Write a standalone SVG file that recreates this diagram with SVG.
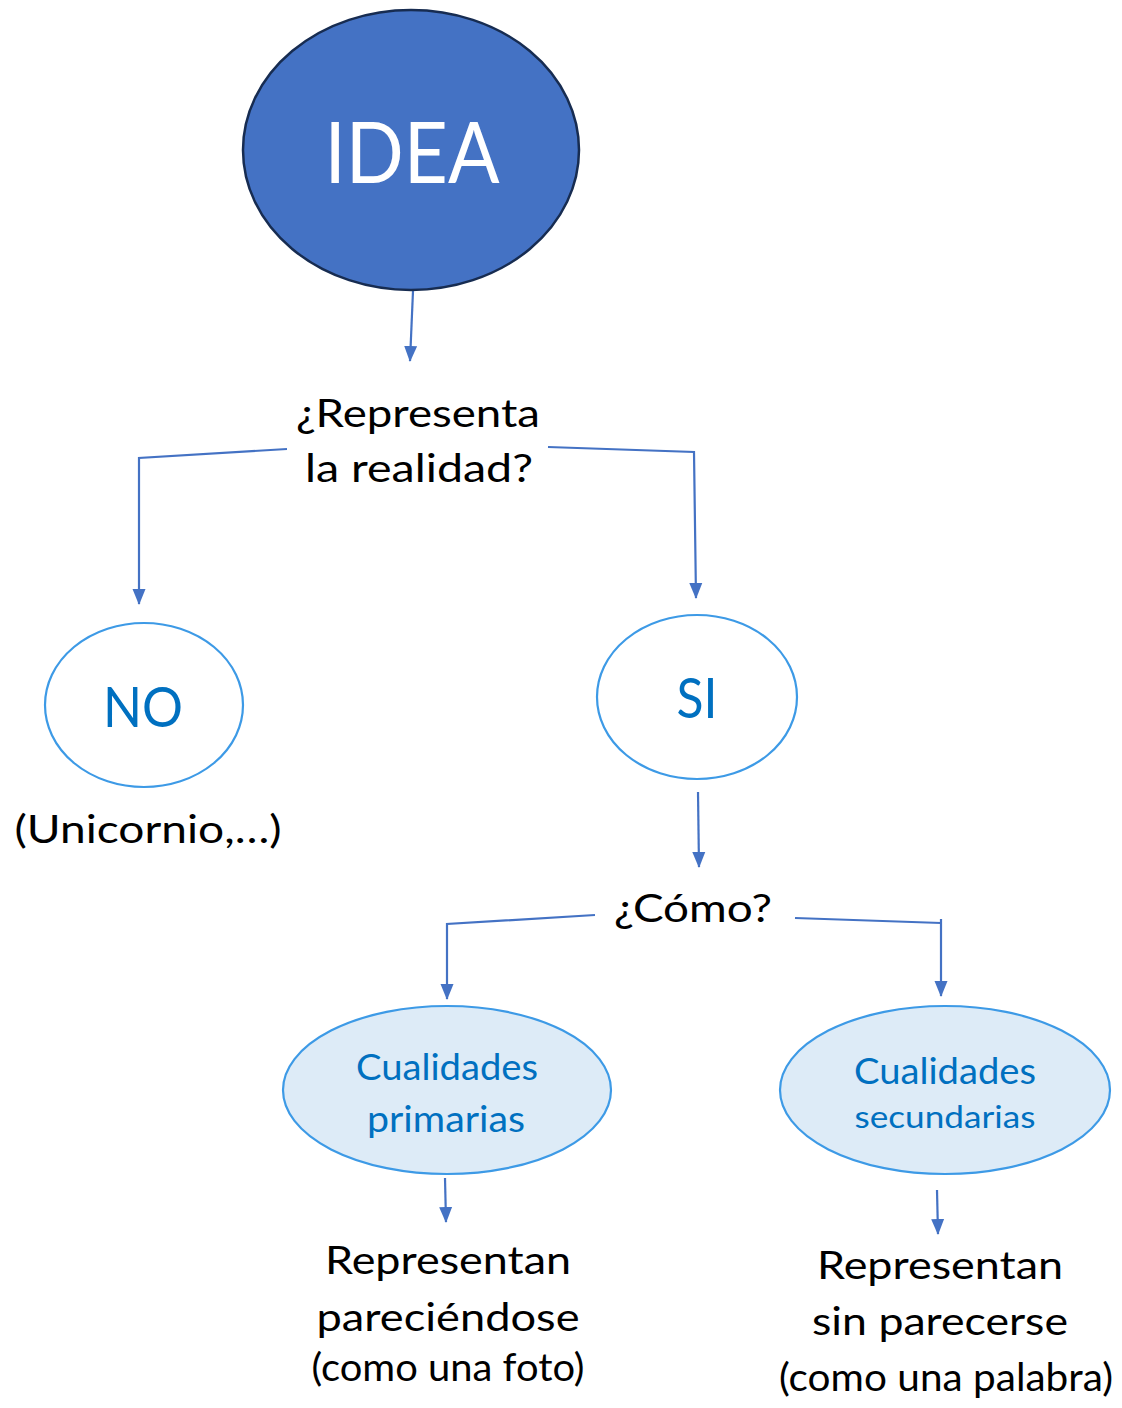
<svg xmlns="http://www.w3.org/2000/svg" width="1122" height="1408" viewBox="0 0 1122 1408">
<style>
  .conn { fill: none; stroke: #4472C4; stroke-width: 2.2; }
  .t { font-family: Lato, "Open Sans", "Liberation Sans", sans-serif; text-anchor: middle; }
  .black { fill: #000000; font-size: 39px; }
  .blue { fill: #0070C0; }
  .lightnode { fill: #FFFFFF; stroke: #3D9AE6; stroke-width: 2.2; }
  .fillnode { fill: #DDEBF7; stroke: #3D9AE6; stroke-width: 2.2; }
</style>
<defs>
  <marker id="arrow" markerUnits="userSpaceOnUse" markerWidth="16" markerHeight="16" viewBox="0 0 16 16" refX="15" refY="8" orient="auto">
    <path d="M0,1.5 L16,8 L0,14.5 Z" fill="#4472C4"/>
  </marker>
</defs>
<rect x="0" y="0" width="1122" height="1408" fill="#FFFFFF"/>

<g id="connectors">
  <path class="conn" d="M413,291 L410,361" marker-end="url(#arrow)"/>
  <path class="conn" d="M287,449 L139,458 L139,604" marker-end="url(#arrow)"/>
  <path class="conn" d="M548,447 L694,452 L696,598" marker-end="url(#arrow)"/>
  <path class="conn" d="M698,792 L699,867" marker-end="url(#arrow)"/>
  <path class="conn" d="M595,915 L447,924 L447,999" marker-end="url(#arrow)"/>
  <path class="conn" d="M795,918 L941,923"/>
  <path class="conn" d="M941,919 L941,996" marker-end="url(#arrow)"/>
  <path class="conn" d="M445,1178 L446,1222" marker-end="url(#arrow)"/>
  <path class="conn" d="M937,1190 L938,1234" marker-end="url(#arrow)"/>
</g>

<g id="idea">
  <ellipse cx="411" cy="150" rx="168" ry="140" fill="#4472C4" stroke="#172C51" stroke-width="2.5"/>
  <text class="t" x="412" y="183" font-size="85" fill="#FFFFFF" textLength="175" lengthAdjust="spacingAndGlyphs">IDEA</text>
</g>

<g id="pregunta-realidad">
  <text class="t black" x="418" y="427" textLength="244" lengthAdjust="spacingAndGlyphs">¿Representa</text>
  <text class="t black" x="419" y="482" textLength="228" lengthAdjust="spacingAndGlyphs">la realidad?</text>
</g>

<g id="no">
  <ellipse class="lightnode" cx="144" cy="705" rx="99" ry="82"/>
  <text class="t blue" x="143" y="727" font-size="57" textLength="80" lengthAdjust="spacingAndGlyphs">NO</text>
</g>

<g id="unicornio">
  <text class="t black" x="148" y="843" textLength="267" lengthAdjust="spacingAndGlyphs">(Unicornio,…)</text>
</g>

<g id="si">
  <ellipse class="lightnode" cx="697" cy="697" rx="100" ry="82"/>
  <text class="t blue" x="697" y="718" font-size="57" textLength="41" lengthAdjust="spacingAndGlyphs">SI</text>
</g>

<g id="pregunta-como">
  <text class="t black" x="693" y="922" textLength="158" lengthAdjust="spacingAndGlyphs">¿Cómo?</text>
</g>

<g id="cualidades-primarias">
  <ellipse class="fillnode" cx="447" cy="1090" rx="164" ry="84"/>
  <text class="t blue" x="447" y="1080" font-size="36" textLength="182" lengthAdjust="spacingAndGlyphs">Cualidades</text>
  <text class="t blue" x="446" y="1132" font-size="36" textLength="158" lengthAdjust="spacingAndGlyphs">primarias</text>
</g>

<g id="cualidades-secundarias">
  <ellipse class="fillnode" cx="945" cy="1090" rx="165" ry="84"/>
  <text class="t blue" x="945" y="1084" font-size="36" textLength="182" lengthAdjust="spacingAndGlyphs">Cualidades</text>
  <text class="t blue" x="945" y="1128" font-size="31" textLength="181" lengthAdjust="spacingAndGlyphs">secundarias</text>
</g>

<g id="representan-pareciendose">
  <text class="t black" x="448" y="1274" textLength="246" lengthAdjust="spacingAndGlyphs">Representan</text>
  <text class="t black" x="448" y="1331" textLength="263" lengthAdjust="spacingAndGlyphs">pareciéndose</text>
  <text class="t black" x="448" y="1381" font-size="34" textLength="273" lengthAdjust="spacingAndGlyphs">(como una foto)</text>
</g>

<g id="representan-sin-parecerse">
  <text class="t black" x="940" y="1279" textLength="246" lengthAdjust="spacingAndGlyphs">Representan</text>
  <text class="t black" x="940" y="1335" textLength="256" lengthAdjust="spacingAndGlyphs">sin parecerse</text>
  <text class="t black" x="946" y="1391" font-size="34" textLength="334" lengthAdjust="spacingAndGlyphs">(como una palabra)</text>
</g>
</svg>
